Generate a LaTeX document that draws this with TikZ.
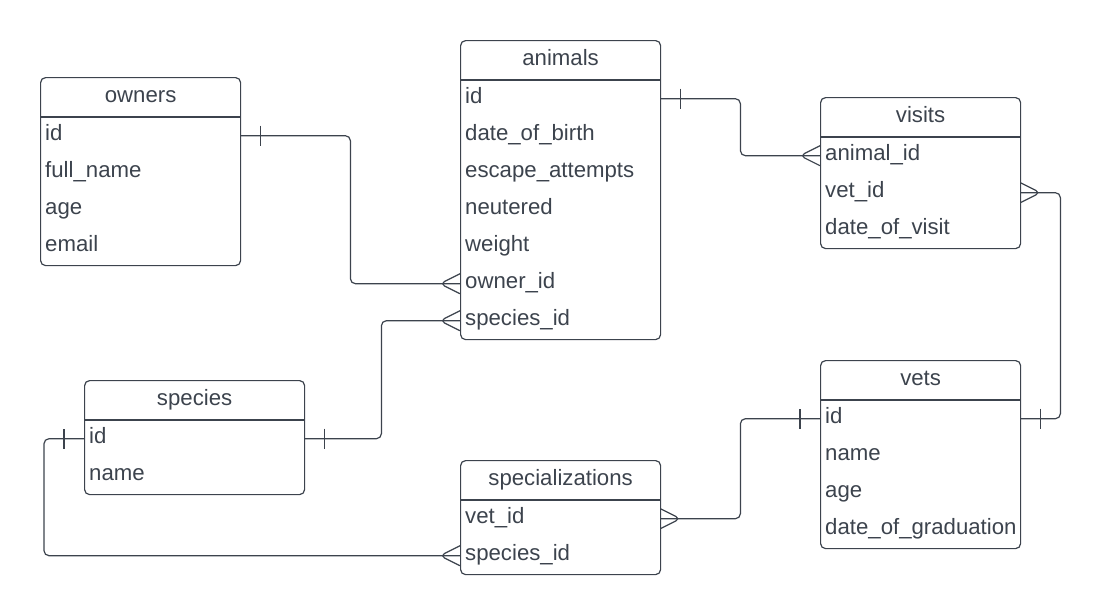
\documentclass[tikz,border=0pt]{standalone}
\usepackage{fontspec}
\setmainfont{Liberation Sans}
\usetikzlibrary{positioning}

\definecolor{inkgray}{HTML}{3C434D}

\tikzset{
  tbl/.style={draw=inkgray, line width=1.2pt, rounded corners=5pt, inner sep=0pt},
  tbl line/.style={draw=inkgray, line width=1.2pt},
  title/.style={anchor=base, inner sep=0pt, text=inkgray, font=\fontsize{22.2}{26}\selectfont},
  field/.style={anchor=north west, inner xsep=5pt, inner ysep=0pt, text width=190pt, align=left,
    minimum height=37pt, text height=15pt, text depth=5pt, text=inkgray, font=\fontsize{22.2}{26}\selectfont},
  wide field/.style={field, text width=210pt},
  conn/.style={draw=inkgray, line width=1.2pt, rounded corners=5pt},
  pics/onemark/.style={code={\draw[conn] (20,-10) -- (20,10);}},
  pics/manymark/.style={code={\draw[conn] (0,-10) -- (20,0) -- (0,10);}},
}

\begin{document}
\begin{tikzpicture}[x=1pt, y=-1pt]
\useasboundingbox (0,0) rectangle (1101,614);

% owners
\node[tbl, minimum width=200pt, minimum height=188pt, anchor=north west] (owners) at (40,77) {};
\draw[tbl line] ([yshift=-40pt]owners.north west) -- ([yshift=-40pt]owners.north east);
\node[title] (owners-title) at ([yshift=-25pt]owners.north) {owners};
\foreach \f [count=\i] in {id,full\_name,age,email}
  \node[field] (owners-\i) at ([shift={(0,40+37*(\i-1))}]owners.north west) {\f};

% animals
\node[tbl, minimum width=200pt, minimum height=299pt, anchor=north west] (animals) at (460,40) {};
\draw[tbl line] ([yshift=-40pt]animals.north west) -- ([yshift=-40pt]animals.north east);
\node[title] (animals-title) at ([yshift=-25pt]animals.north) {animals};
\foreach \f [count=\i] in {id,date\_of\_birth,escape\_attempts,neutered,weight,owner\_id,species\_id}
  \node[field] (animals-\i) at ([shift={(0,40+37*(\i-1))}]animals.north west) {\f};

% visits
\node[tbl, minimum width=200pt, minimum height=151pt, anchor=north west] (visits) at (820,97) {};
\draw[tbl line] ([yshift=-40pt]visits.north west) -- ([yshift=-40pt]visits.north east);
\node[title] (visits-title) at ([yshift=-25pt]visits.north) {visits};
\foreach \f [count=\i] in {animal\_id,vet\_id,date\_of\_visit}
  \node[field] (visits-\i) at ([shift={(0,40+37*(\i-1))}]visits.north west) {\f};

% species
\node[tbl, minimum width=220pt, minimum height=114pt, anchor=north west] (species) at (84,380) {};
\draw[tbl line] ([yshift=-40pt]species.north west) -- ([yshift=-40pt]species.north east);
\node[title] (species-title) at ([yshift=-25pt]species.north) {species};
\foreach \f [count=\i] in {id,name}
  \node[wide field] (species-\i) at ([shift={(0,40+37*(\i-1))}]species.north west) {\f};

% specializations
\node[tbl, minimum width=200pt, minimum height=114pt, anchor=north west] (specializations) at (460,460) {};
\draw[tbl line] ([yshift=-40pt]specializations.north west) -- ([yshift=-40pt]specializations.north east);
\node[title] (specializations-title) at ([yshift=-25pt]specializations.north) {specializations};
\foreach \f [count=\i] in {vet\_id,species\_id}
  \node[field] (specializations-\i) at ([shift={(0,40+37*(\i-1))}]specializations.north west) {\f};

% vets
\node[tbl, minimum width=200pt, minimum height=188pt, anchor=north west] (vets) at (820,360) {};
\draw[tbl line] ([yshift=-40pt]vets.north west) -- ([yshift=-40pt]vets.north east);
\node[title] (vets-title) at ([yshift=-25pt]vets.north) {vets};
\foreach \f [count=\i] in {id,name,age,date\_of\_graduation}
  \node[field] (vets-\i) at ([shift={(0,40+37*(\i-1))}]vets.north west) {\f};

% relations
\draw[conn] (owners-1.east) -- ++(110,0) |- (animals-6.west);
\draw[conn] (species-1.east) -- ++(77,0) |- (animals-7.west);
\draw[conn] (animals-1.east) -- ++(80,0) |- (visits-1.west);
\draw[conn] (visits-2.east) -- ++(40,0) |- (vets-1.east);
\draw[conn] (specializations-1.east) -- ++(80,0) |- (vets-1.west);
\draw[conn] (species-1.west) -- ++(-40,0) |- (specializations-2.west);

% cardinality marks
\pic at (owners-1.east) {onemark};
\pic[rotate=180] at (animals-6.west) {manymark};
\pic at (species-1.east) {onemark};
\pic[rotate=180] at (animals-7.west) {manymark};
\pic at (animals-1.east) {onemark};
\pic[rotate=180] at (visits-1.west) {manymark};
\pic at (visits-2.east) {manymark};
\pic at (vets-1.east) {onemark};
\pic at (specializations-1.east) {manymark};
\pic[rotate=180] at (vets-1.west) {onemark};
\pic[rotate=180] at (species-1.west) {onemark};
\pic[rotate=180] at (specializations-2.west) {manymark};
\end{tikzpicture}
\end{document}
